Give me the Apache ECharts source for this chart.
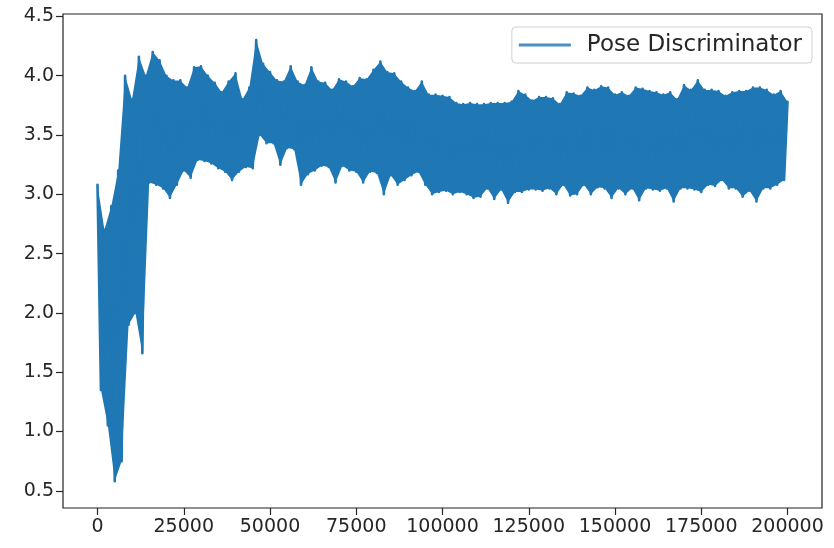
<!DOCTYPE html>
<html>
<head>
<meta charset="utf-8">
<title>Pose Discriminator</title>
<script src="https://cdn.jsdelivr.net/npm/echarts@6/dist/echarts.min.js"></script>
<style>
  html, body { margin: 0; padding: 0; background: #fff; }
  #chart { width: 834px; height: 548px; }
</style>
</head>
<body>
<div id="chart"></div>
<script>
// upper edge of the noisy trace, read every 2000 steps (x = 0, 2000, ... 200000)
var peaks = [
  3.08, 2.70, 2.90, 3.20, 4.00, 3.80, 4.16, 4.00, 4.20, 4.13,
  4.00, 3.96, 3.96, 3.90, 4.07, 4.08, 4.00, 3.94, 3.86, 3.95,
  4.02, 3.80, 3.90, 4.30, 4.10, 4.03, 3.96, 3.95, 4.08, 3.95,
  3.92, 4.07, 3.95, 3.94, 3.88, 3.97, 3.95, 3.91, 3.98, 3.97,
  4.05, 4.12, 4.03, 4.02, 3.95, 3.90, 3.87, 3.95, 3.84, 3.84,
  3.83, 3.82, 3.77, 3.76, 3.77, 3.76, 3.76, 3.77, 3.77, 3.77,
  3.78, 3.87, 3.84, 3.79, 3.82, 3.82, 3.81, 3.76, 3.86, 3.85,
  3.83, 3.90, 3.88, 3.91, 3.90, 3.84, 3.86, 3.83, 3.90, 3.89,
  3.87, 3.86, 3.84, 3.86, 3.80, 3.92, 3.88, 3.96, 3.88, 3.88,
  3.87, 3.83, 3.86, 3.87, 3.87, 3.90, 3.90, 3.88, 3.84, 3.87,
  3.78
]
// lower edge, read in between (x = 1000, 3000, ... 199000)
var troughs = [
  1.35, 1.05, 0.58, 0.75, 1.90, 2.00, 1.66, 3.10, 3.08, 3.05,
  2.97, 3.08, 3.20, 3.14, 3.29, 3.28, 3.26, 3.22, 3.19, 3.12,
  3.19, 3.23, 3.22, 3.50, 3.43, 3.43, 3.25, 3.39, 3.38, 3.08,
  3.17, 3.20, 3.24, 3.23, 3.10, 3.24, 3.20, 3.19, 3.10, 3.19,
  3.18, 3.00, 3.16, 3.08, 3.12, 3.16, 3.19, 3.08, 3.00, 3.02,
  3.03, 3.00, 3.02, 3.00, 2.97, 2.98, 3.05, 2.96, 3.04, 2.93,
  3.02, 3.02, 3.04, 3.04, 3.03, 3.05, 3.00, 3.08, 2.99, 3.00,
  3.08, 3.00, 3.06, 3.05, 2.97, 3.05, 3.00, 3.05, 2.95, 3.05,
  3.04, 3.03, 3.05, 2.94, 3.05, 3.05, 3.04, 3.02, 3.08, 3.07,
  3.12, 3.05, 3.05, 2.98, 3.03, 2.94, 3.05, 3.05, 3.08, 3.12
]
var step = 2000
var xTicks = [0, 25000, 50000, 75000, 100000, 125000, 150000, 175000, 200000]
var yTicks = [0.5, 1.0, 1.5, 2.0, 2.5, 3.0, 3.5, 4.0, 4.5]

var trace = []
for (var i = 0; i < peaks.length; i++) {
  trace.push([i * step, peaks[i]])
  if (i < troughs.length) trace.push([i * step + step / 2, troughs[i]])
}

var font = 'DejaVu Sans'
var ink = '#262626'
var blue = '#1f77b4'

// the dense trace is drawn as a solid band between the two edges,
// with the zigzag line on top for the ragged border
var renderBand = function (params, api) {
  var pts = []
  for (var i = 0; i < peaks.length; i++) pts.push(api.coord([i * step, peaks[i]]))
  for (var j = troughs.length - 1; j >= 0; j--) pts.push(api.coord([j * step + step / 2, troughs[j]]))
  return {
    type: 'polygon',
    shape: { points: pts },
    style: { fill: blue }
  }
}

var chart = echarts.init(document.getElementById('chart'), null, { renderer: 'canvas' })
var option = {
  animation: false,
  backgroundColor: '#fff',
  grid: {
    left: 63,
    right: 12,
    top: 14,
    bottom: 40,
    show: true,
    borderColor: '#222',
    borderWidth: 1.2,
    containLabel: false
  },
  legend: {
    right: 22,
    top: 27,
    data: ['Pose Discriminator'],
    icon: 'rect',
    itemWidth: 52,
    itemHeight: 3,
    padding: [6, 10, 6, 7],
    backgroundColor: 'rgba(255,255,255,0.8)',
    borderColor: '#d0d0d0',
    borderWidth: 1,
    borderRadius: 4,
    itemStyle: { color: '#4a8fc6' },
    textStyle: {
      fontFamily: font,
      fontSize: 23,
      lineHeight: 24,
      color: ink,
      padding: [0, 0, 0, 11]
    }
  },
  xAxis: {
    type: 'value',
    min: -10000,
    max: 210000,
    splitLine: { show: false },
    axisLine: { show: false, onZero: false },
    axisTick: {
      show: true,
      length: 7,
      customValues: xTicks,
      lineStyle: { color: ink, width: 1.2 }
    },
    axisLabel: {
      customValues: xTicks,
      margin: 10,
      fontFamily: font,
      fontSize: 19,
      color: ink,
      formatter: function (v) { return String(v) }
    }
  },
  yAxis: {
    type: 'value',
    min: 0.355,
    max: 4.52,
    splitLine: { show: false },
    axisLine: { show: false, onZero: false },
    axisTick: {
      show: true,
      length: 7,
      customValues: yTicks,
      lineStyle: { color: ink, width: 1.2 }
    },
    axisLabel: {
      customValues: yTicks,
      margin: 9,
      fontFamily: font,
      fontSize: 19,
      color: ink,
      formatter: function (v) { return v.toFixed(1) }
    }
  },
  series: [
    {
      name: 'band',
      type: 'custom',
      renderItem: renderBand,
      data: [[0, peaks[0]]],
      silent: true,
      z: 1
    },
    {
      name: 'Pose Discriminator',
      type: 'line',
      symbol: 'none',
      data: trace,
      color: blue,
      z: 2,
      lineStyle: {
        color: blue,
        width: 2.6,
        join: 'round',
        cap: 'round'
      }
    }
  ]
}
chart.setOption(option)
</script>
</body>
</html>
